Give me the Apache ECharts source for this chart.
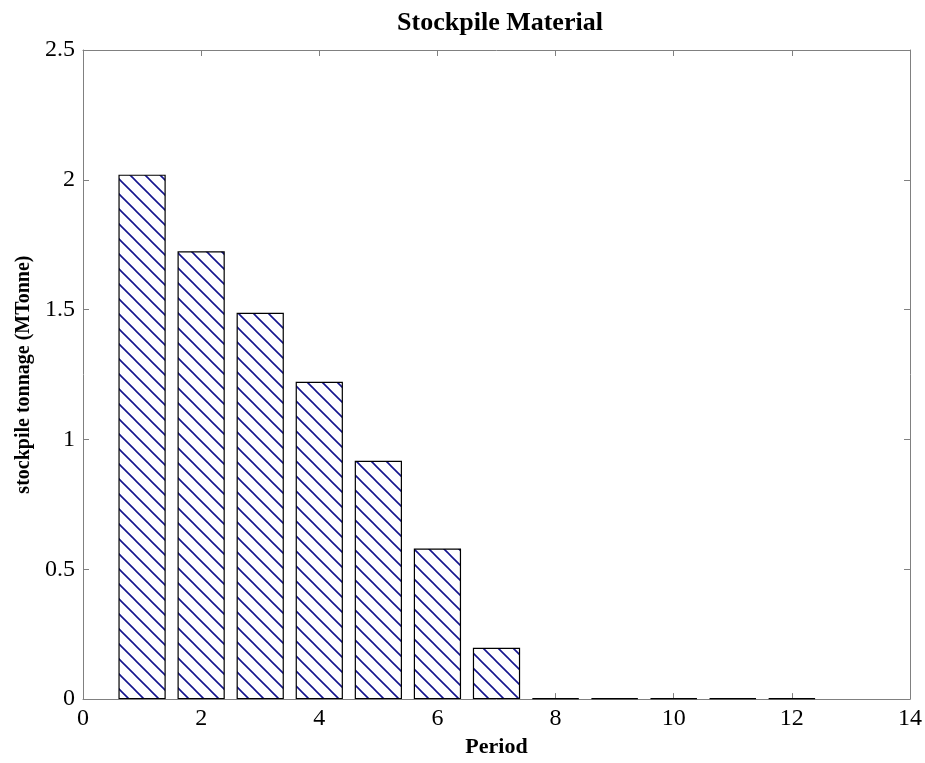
<!DOCTYPE html>
<html><head><meta charset="utf-8">
<script src="https://cdn.jsdelivr.net/npm/echarts@6/dist/echarts.min.js"></script>
<style>html,body{margin:0;padding:0;background:#fff}#c{width:925px;height:763px}</style>
</head><body><div id="c"></div>
<script>
const periods = [1,2,3,4,5,6,7,8,9,10,11,12];
const tonnage = [2.02,1.725,1.488,1.222,0.918,0.58,0.198,0.003,0.003,0.003,0.003,0.003];
const xTicks = [0,2,4,6,8,10,12,14];
const yTicks = [0,0.5,1,1.5,2,2.5];

const pc = document.createElement('canvas');
pc.width = 15; pc.height = 15;
const g = pc.getContext('2d');
g.fillStyle = '#fff'; g.fillRect(0,0,15,15);
g.strokeStyle = '#15158f'; g.lineWidth = 1.6;
g.beginPath();
g.moveTo(-2,-2); g.lineTo(17,17);
g.moveTo(-17,-2); g.lineTo(2,17);
g.moveTo(13,-2); g.lineTo(32,17);
g.stroke();

const font = 'Liberation Serif';
function axisCommon(){
  return {
    axisLine:{show:true,onZero:false,lineStyle:{color:'#808080',width:1}},
    axisTick:{show:true,inside:true,length:6,lineStyle:{color:'#808080'}},
    splitLine:{show:false}
  };
}
const chart = echarts.init(document.getElementById('c'));
chart.setOption({
  animation:false,
  backgroundColor:'#fff',
  title:{text:'Stockpile Material',left:495,top:5,textAlign:'center',
    textStyle:{fontFamily:font,fontWeight:'bold',fontSize:26,color:'#000'}},
  grid:{left:83,right:15,top:50,bottom:60},
  xAxis:[
    Object.assign(axisCommon(),{type:'value',min:0,max:14,interval:2,position:'bottom',
      name:'Period',nameLocation:'middle',nameGap:34,
      nameTextStyle:{fontFamily:font,fontWeight:'bold',fontSize:22,color:'#000'},
      axisLabel:{fontFamily:font,fontSize:24,color:'#000',margin:8,
        formatter:v=>xTicks.includes(v)?String(v):''}}),
    Object.assign(axisCommon(),{type:'value',min:0,max:14,interval:2,position:'top',axisLabel:{show:false}})
  ],
  yAxis:[
    Object.assign(axisCommon(),{type:'value',min:0,max:2.5,interval:0.5,position:'left',
      name:'stockpile tonnage (MTonne)',nameLocation:'middle',nameGap:48,
      nameTextStyle:{fontFamily:font,fontWeight:'bold',fontSize:20,color:'#000'},
      axisLabel:{fontFamily:font,fontSize:24,color:'#000',margin:8,
        formatter:v=>yTicks.includes(v)?String(v):''}}),
    Object.assign(axisCommon(),{type:'value',min:0,max:2.5,interval:0.5,position:'right',axisLabel:{show:false}})
  ],
  series:[{
    type:'bar',xAxisIndex:0,yAxisIndex:0,
    data:periods.map((p,i)=>[p,tonnage[i]]),
    barWidth:'80%',
    itemStyle:{color:{image:pc,repeat:'repeat'},borderColor:'#000',borderWidth:1.2}
  }]
});
</script></body></html>
